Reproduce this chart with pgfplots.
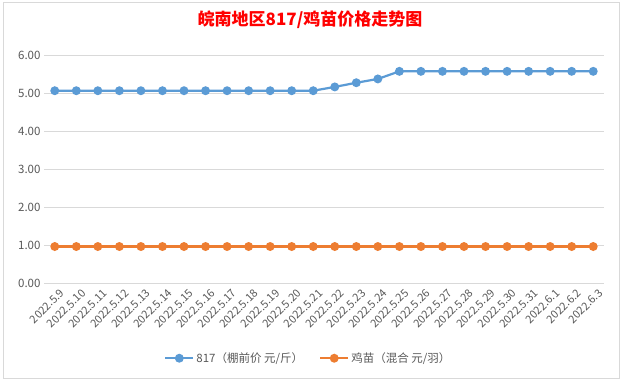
\documentclass[border=0pt]{standalone}
\usepackage{pgfplots}
\pgfplotsset{compat=1.18}
\usepackage{fontspec}
\setmainfont{Noto Sans CJK SC}
\definecolor{sblue}{HTML}{5B9BD5}
\definecolor{sorange}{HTML}{ED7D31}
\definecolor{tgray}{HTML}{595959}
\definecolor{ggray}{HTML}{D9D9D9}
\begin{document}
\begin{tikzpicture}[x=1pt,y=1pt]
\path[use as bounding box] (0,0) rectangle (623,382);
\fill[white] (0,0) rectangle (623,382);
\draw[ggray, line width=1pt] (3,3) rectangle (619,379);
\node[text=red, font=\fontsize{17}{20}\selectfont\bfseries] at (310,362) {皖南地区817/鸡苗价格走势图};
\begin{axis}[
  at={(44pt,99pt)}, anchor=south west,
  scale only axis, width=560pt, height=228pt,
  xmin=-0.5, xmax=25.5, ymin=0, ymax=6,
  ytick={0,1,2,3,4,5,6},
  xtick={0,...,25},
  xticklabels={2022.5.9,2022.5.10,2022.5.11,2022.5.12,2022.5.13,2022.5.14,2022.5.15,2022.5.16,2022.5.17,2022.5.18,2022.5.19,2022.5.20,2022.5.21,2022.5.22,2022.5.23,2022.5.24,2022.5.25,2022.5.26,2022.5.27,2022.5.28,2022.5.29,2022.5.30,2022.5.31,2022.6.1,2022.6.2,2022.6.3},
  axis line style={draw=none},
  major tick length=0pt,
  ymajorgrids, grid style={ggray, line width=0.8pt},
  /pgf/number format/assume math mode=true,
  yticklabel style={/pgf/number format/fixed, /pgf/number format/fixed zerofill, /pgf/number format/precision=2, font=\fontsize{11.5}{13}\selectfont, text=tgray},
  xticklabel style={rotate=45, anchor=east, font=\fontsize{11}{12}\selectfont, text=tgray, xshift=3pt, yshift=-11pt},
  legend columns=2,
  legend style={at={(0.472,-0.33)}, anchor=center, draw=none, fill=none, font=\fontsize{11.5}{13}\selectfont, text=tgray, /tikz/every even column/.append style={column sep=14pt}},
  legend image code/.code={\draw[#1, mark repeat=2, mark phase=2] plot coordinates {(0pt,0pt) (14pt,0pt) (28pt,0pt)};},
]
\addplot[sblue, line width=2.2pt, mark=*, mark size=3.3pt] coordinates {
(0,5.06) (1,5.06) (2,5.06) (3,5.06) (4,5.06) (5,5.06) (6,5.06) (7,5.06) (8,5.06) (9,5.06) (10,5.06) (11,5.06) (12,5.06)
(13,5.16) (14,5.27) (15,5.37) (16,5.57) (17,5.57) (18,5.57) (19,5.57) (20,5.57) (21,5.57) (22,5.57) (23,5.57) (24,5.57) (25,5.57)};
\addlegendentry{817（棚前价 元/斤）}
\addplot[sorange, line width=2.2pt, mark=*, mark size=3.3pt] coordinates {
(0,0.96) (1,0.96) (2,0.96) (3,0.96) (4,0.96) (5,0.96) (6,0.96) (7,0.96) (8,0.96) (9,0.96) (10,0.96) (11,0.96) (12,0.96)
(13,0.96) (14,0.96) (15,0.96) (16,0.96) (17,0.96) (18,0.96) (19,0.96) (20,0.96) (21,0.96) (22,0.96) (23,0.96) (24,0.96) (25,0.96)};
\addlegendentry{鸡苗（混合 元/羽）}
\end{axis}
\end{tikzpicture}
\end{document}
